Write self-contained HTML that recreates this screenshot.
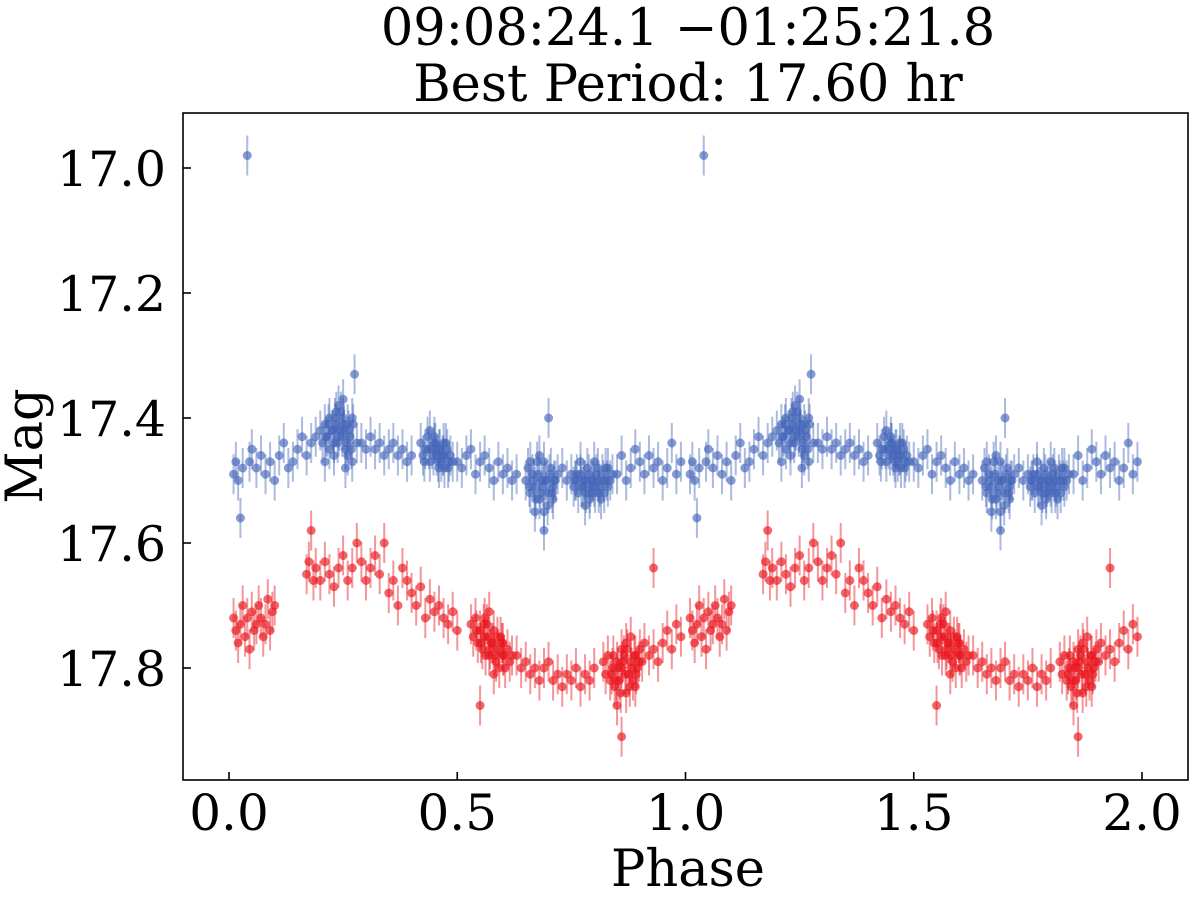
<!DOCTYPE html>
<html><head><meta charset="utf-8"><style>
body{margin:0;background:#fff;}
svg text{font-family:"DejaVu Serif","Liberation Serif",serif;fill:#000;}
</style></head><body>
<svg id="chart" width="1200" height="892" viewBox="0 0 1200 892" xmlns="http://www.w3.org/2000/svg">
<text x="688" y="45" font-size="51" text-anchor="middle">09:08:24.1 −01:25:21.8</text>
<text x="688" y="101" font-size="51" text-anchor="middle">Best Period: 17.60 hr</text>
<text x="688" y="886" font-size="51" text-anchor="middle">Phase</text>
<text x="0" y="0" font-size="51" text-anchor="middle" transform="translate(42,446) rotate(-90)">Mag</text>
<g id="marks"></g>
<g id="axes"></g>
</svg>
<script>
const xTicks=[0.0,0.5,1.0,1.5,2.0];
const xTickLabels=["0.0","0.5","1.0","1.5","2.0"];
const yTicks=[17.0,17.2,17.4,17.6,17.8];
const yTickLabels=["17.0","17.2","17.4","17.6","17.8"];
const bluePhase=[0.01,0.015,0.02,0.025,0.03,0.04,0.045,0.05,0.06,0.07,0.08,0.09,0.1,0.11,0.12,0.13,0.14,0.15,0.16,0.17,0.18,0.19,
0.2,0.205,0.21,0.215,0.22,0.225,0.23,0.235,0.24,0.245,0.25,0.255,0.26,0.265,0.27,0.275,0.28,0.22,0.24,0.26,0.21,0.25,
0.212,0.218,0.228,0.232,0.238,0.242,0.248,0.252,0.258,0.262,0.268,0.272,0.23,0.25,0.27,0.235,0.255,
0.29,0.3,0.31,0.32,0.33,0.34,0.35,0.36,0.37,0.38,0.39,0.4,
0.42,0.425,0.43,0.435,0.44,0.445,0.45,0.455,0.46,0.465,0.47,0.475,0.48,0.485,0.49,0.44,0.46,
0.428,0.438,0.448,0.452,0.458,0.462,0.468,0.472,0.478,0.45,0.47,0.482,
0.5,0.51,0.52,0.53,0.54,0.55,0.56,0.57,0.58,0.59,0.6,0.61,0.62,0.63,
0.65,0.655,0.66,0.665,0.67,0.675,0.68,0.685,0.69,0.695,0.7,0.7,0.705,0.71,0.715,0.72,0.69,0.68,0.73,0.74,
0.658,0.668,0.672,0.678,0.682,0.688,0.692,0.698,0.702,0.708,0.712,0.66,0.67,0.69,0.71,
0.75,0.755,0.76,0.765,0.77,0.775,0.78,0.785,0.79,0.795,0.8,0.805,0.81,0.815,0.82,0.825,0.83,0.835,0.84,0.78,0.8,
0.758,0.762,0.772,0.778,0.782,0.788,0.792,0.798,0.802,0.808,0.812,0.818,0.822,0.828,0.77,0.79,0.81,0.83,
0.85,0.86,0.87,0.88,0.89,0.9,0.91,0.92,0.93,0.94,0.95,0.96,0.97,0.98,0.99];
const blueMag=[17.49,17.47,17.5,17.56,17.48,16.98,17.47,17.45,17.48,17.46,17.49,17.47,17.5,17.46,17.44,17.48,17.47,17.45,17.43,17.46,17.44,17.43,
17.42,17.44,17.41,17.43,17.4,17.42,17.44,17.41,17.43,17.39,17.42,17.45,17.41,17.43,17.4,17.33,17.44,17.45,17.38,17.46,17.47,17.4,
17.43,17.41,17.42,17.4,17.44,17.42,17.43,17.41,17.44,17.42,17.45,17.41,17.46,17.37,17.47,17.39,17.48,
17.44,17.45,17.43,17.45,17.44,17.46,17.45,17.44,17.46,17.45,17.47,17.46,
17.44,17.46,17.45,17.43,17.47,17.45,17.44,17.46,17.45,17.47,17.46,17.44,17.48,17.46,17.47,17.42,17.48,
17.47,17.45,17.46,17.44,17.47,17.45,17.46,17.48,17.45,17.43,17.44,17.47,
17.47,17.48,17.46,17.45,17.49,17.47,17.46,17.48,17.5,17.47,17.49,17.48,17.5,17.49,
17.5,17.48,17.52,17.49,17.51,17.47,17.53,17.5,17.55,17.5,17.4,17.52,17.48,17.51,17.5,17.49,17.58,17.46,17.48,17.5,
17.51,17.5,17.53,17.49,17.52,17.51,17.5,17.54,17.49,17.52,17.5,17.47,17.55,17.47,17.53,
17.49,17.51,17.5,17.52,17.49,17.51,17.5,17.48,17.52,17.5,17.51,17.49,17.5,17.53,17.5,17.48,17.51,17.5,17.49,17.54,17.47,
17.5,17.49,17.51,17.5,17.52,17.49,17.51,17.5,17.52,17.48,17.51,17.49,17.52,17.5,17.47,17.53,17.52,17.48,
17.49,17.46,17.5,17.48,17.45,17.47,17.49,17.46,17.48,17.47,17.5,17.48,17.44,17.49,17.47];
const redPhase=[0.01,0.015,0.02,0.025,0.03,0.035,0.04,0.045,0.05,0.055,0.06,0.065,0.07,0.075,0.08,0.085,0.09,0.095,0.1,
0.17,0.175,0.18,0.185,0.19,0.2,0.21,0.22,0.23,0.24,0.25,0.26,0.27,0.28,0.29,0.3,0.31,0.32,0.33,0.34,0.35,0.36,0.37,0.38,0.39,0.4,0.41,0.42,0.43,0.44,0.45,0.46,0.47,0.48,0.49,0.5,
0.53,0.535,0.54,0.545,0.55,0.555,0.56,0.565,0.57,0.575,0.58,0.585,0.59,0.595,0.6,0.605,0.61,0.615,0.62,0.55,0.57,
0.542,0.552,0.558,0.562,0.568,0.572,0.578,0.582,0.588,0.592,0.598,0.602,0.58,0.6,0.56,
0.63,0.64,0.65,0.66,0.67,0.68,0.69,0.7,0.71,0.72,0.73,0.74,0.75,0.76,0.77,0.78,0.79,0.8,
0.82,0.825,0.83,0.835,0.84,0.845,0.85,0.855,0.86,0.865,0.87,0.875,0.88,0.885,0.89,0.895,0.9,0.905,0.91,0.86,0.85,0.88,
0.838,0.842,0.848,0.852,0.858,0.862,0.868,0.872,0.878,0.882,0.888,0.892,0.898,0.87,0.89,0.86,
0.92,0.93,0.94,0.95,0.96,0.97,0.98,0.99,0.93];
const redMag=[17.72,17.74,17.76,17.73,17.7,17.75,17.72,17.77,17.71,17.74,17.73,17.7,17.72,17.75,17.73,17.69,17.74,17.71,17.7,
17.65,17.63,17.58,17.66,17.64,17.66,17.63,17.65,17.67,17.64,17.62,17.66,17.64,17.6,17.63,17.66,17.64,17.62,17.65,17.6,17.68,17.66,17.7,17.64,17.66,17.68,17.7,17.67,17.72,17.69,17.71,17.7,17.72,17.73,17.71,17.74,
17.73,17.75,17.72,17.76,17.74,17.77,17.75,17.73,17.78,17.76,17.74,17.79,17.77,17.75,17.78,17.8,17.77,17.79,17.78,17.86,17.71,
17.74,17.76,17.73,17.78,17.75,17.77,17.76,17.78,17.75,17.8,17.76,17.78,17.81,17.76,17.72,
17.78,17.8,17.79,17.81,17.8,17.82,17.8,17.79,17.82,17.81,17.83,17.81,17.82,17.8,17.83,17.81,17.82,17.8,
17.79,17.81,17.78,17.82,17.8,17.83,17.79,17.82,17.8,17.78,17.84,17.81,17.79,17.82,17.78,17.8,17.77,17.79,17.76,17.91,17.86,17.75,
17.81,17.78,17.82,17.8,17.84,17.79,17.81,17.77,17.83,17.8,17.78,17.81,17.79,17.76,17.83,17.77,
17.78,17.77,17.79,17.76,17.74,17.77,17.73,17.75,17.64];
const errMag=0.032;

const NS="http://www.w3.org/2000/svg";
const L=183,R=1188,T=113,B=780;
function xs(p){return 229+(p-0)*(1142-229)/2;}
function ys(m){return 168+(m-17.0)*625;}
const marks=document.getElementById('marks');
const axes=document.getElementById('axes');
function mk(tag,attrs,parent){const e=document.createElementNS(NS,tag);for(const k in attrs)e.setAttribute(k,attrs[k]);parent.appendChild(e);return e;}

function drawSeries(ph,mg,color,name){
  const g=mk('g',{},marks);
  
  
  const n=Math.min(ph.length,mg.length);
  for(let rep=0;rep<2;rep++){
    for(let i=0;i<n;i++){
      const x=xs(ph[i]+rep),y=ys(mg[i]);
      const ln=mk('line',{x1:x,x2:x,y1:ys(mg[i]-errMag),y2:ys(mg[i]+errMag),stroke:color,'stroke-width':2,'stroke-opacity':0.45},g);
      
      
      const c=mk('circle',{cx:x,cy:y,r:4.5,fill:color,'fill-opacity':0.65},g);
      
      
    }
  }
}
drawSeries(bluePhase,blueMag,'#4466b8','blue');
drawSeries(redPhase,redMag,'#e8141c','red');

const frame=mk('rect',{x:L,y:T,width:R-L,height:B-T,fill:'none',stroke:'#000','stroke-width':1.6},axes);


xTicks.forEach((v,i)=>{
  const x=xs(v);
  const t=mk('line',{x1:x,x2:x,y1:B,y2:B-8,stroke:'#000','stroke-width':1.6},axes);
  
  
  const tx=mk('text',{x:x,y:B+50,'font-size':50,'text-anchor':'middle'},axes);
  tx.textContent=xTickLabels[i];
  
  
});
yTicks.forEach((v,i)=>{
  const y=ys(v);
  const t=mk('line',{x1:L,x2:L+8,y1:y,y2:y,stroke:'#000','stroke-width':1.6},axes);
  
  
  const tx=mk('text',{x:L-17,y:y+18,'font-size':49,'text-anchor':'end'},axes);
  tx.textContent=yTickLabels[i];
  
  
});
</script>
</body></html>
